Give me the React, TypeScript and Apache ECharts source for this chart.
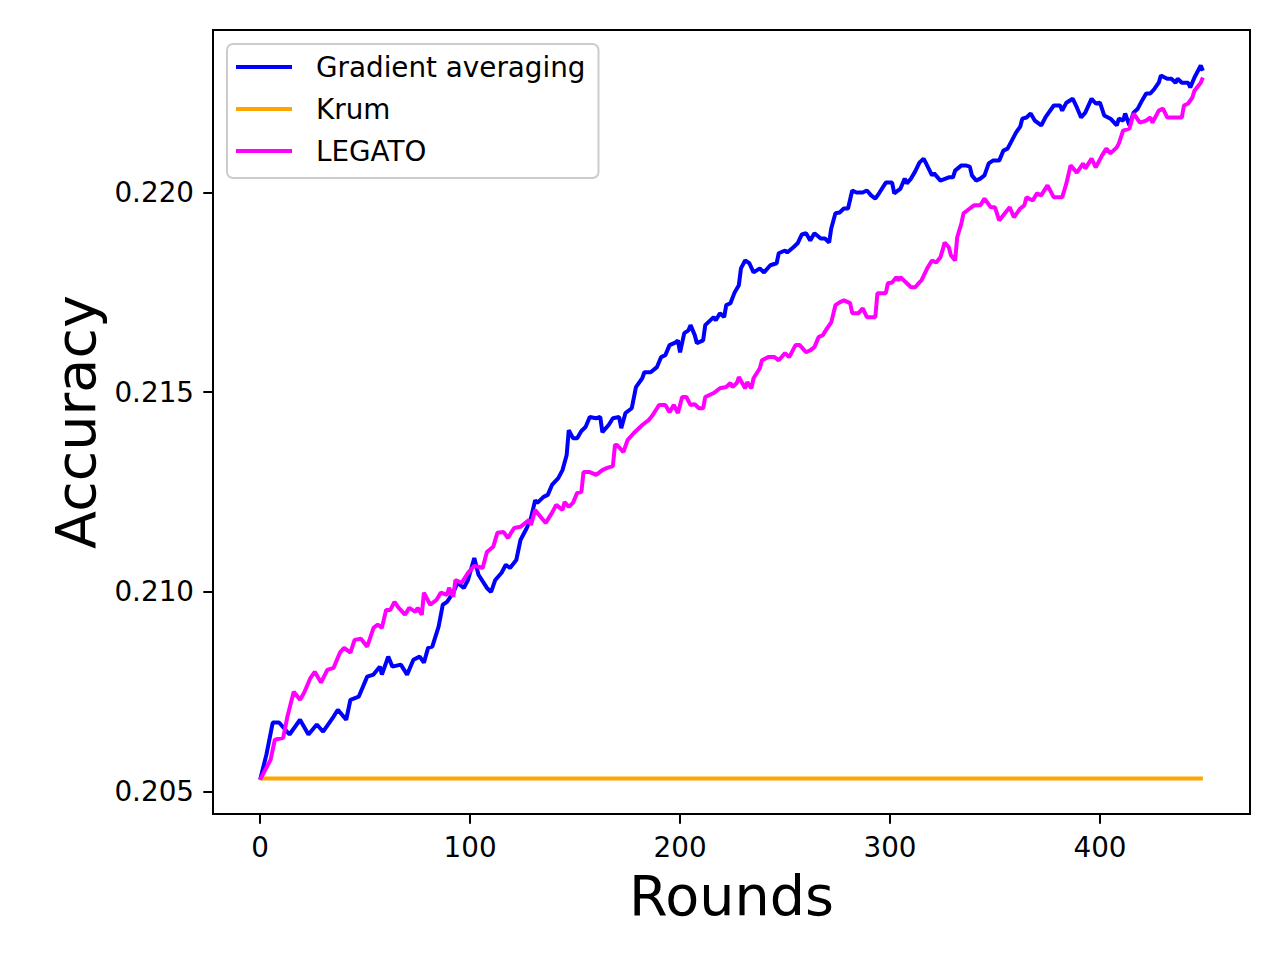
import React, { useEffect, useRef } from "react";
import * as echarts from "echarts";

const seriesNames = ["Gradient averaging", "Krum", "LEGATO"];
const seriesColors = ["#0000ff", "#ffa500", "#ff00ff"];

const xTicks = [0, 100, 200, 300, 400];
const yTicks = [0.205, 0.21, 0.215, 0.22];

const gaRounds = [
  0, 3, 6, 9, 14, 19, 23, 27, 30, 35, 37, 41, 43, 47, 51, 54, 57, 58, 61, 63, 67, 70, 73, 76, 78, 80, 82, 85, 87, 89,
  92, 94, 97, 99, 102, 104, 108, 110, 112, 115, 117, 119, 122, 124, 127, 129, 131, 132, 135, 137, 139, 142, 144, 146,
  147, 149, 151, 153, 155, 157, 160, 162, 163, 166, 168, 171, 172, 174, 177, 179, 182, 183, 186, 189, 191, 193, 195,
  198, 199, 200, 202, 204, 205, 207, 208, 211, 212, 216, 217, 219, 221, 222, 224, 226, 228, 229, 231, 233, 235, 238,
  240, 243, 246, 247, 250, 251, 254, 256, 258, 260, 262, 264, 267, 269, 271, 272, 274, 276, 278, 280, 282, 284, 287,
  289, 291, 293, 295, 298, 301, 302, 305, 307, 308, 310, 312, 314, 316, 317, 320, 321, 324, 328, 330, 331, 334, 336,
  338, 339, 341, 343, 345, 347, 349, 352, 354, 356, 358, 360, 362, 363, 365, 367, 369, 372, 374, 378, 381, 382, 384,
  387, 389, 391, 393, 396, 398, 400, 402, 405, 408, 409, 411, 412, 414, 416, 418, 420, 422, 424, 426, 428, 429, 432,
  434, 436, 437, 439, 442, 443, 445, 446, 448, 449,
];
const gaAcc = [
  0.2053, 0.20593, 0.20673, 0.20673, 0.20643, 0.2068, 0.20643, 0.20668, 0.2065, 0.20688, 0.20705, 0.2068, 0.2073,
  0.20738, 0.20788, 0.20793, 0.20813, 0.20793, 0.20838, 0.20813, 0.20818, 0.20793, 0.2083, 0.20838, 0.20823, 0.2086,
  0.20863, 0.20913, 0.20968, 0.20975, 0.20998, 0.21023, 0.2101, 0.2103, 0.21085, 0.21043, 0.2101, 0.21, 0.2103,
  0.21048, 0.21068, 0.2106, 0.2108, 0.2113, 0.2116, 0.21185, 0.2123, 0.21223, 0.21238, 0.21243, 0.21268, 0.21285,
  0.21305, 0.21343, 0.21405, 0.21385, 0.21385, 0.21403, 0.21413, 0.21438, 0.21435, 0.21438, 0.214, 0.21418, 0.21435,
  0.21438, 0.2141, 0.21448, 0.2146, 0.21513, 0.21535, 0.2155, 0.2155, 0.21563, 0.21588, 0.21593, 0.21618, 0.21625,
  0.2163, 0.216, 0.21648, 0.21655, 0.21668, 0.21643, 0.21623, 0.2163, 0.21668, 0.21688, 0.2168, 0.21698, 0.21688,
  0.21718, 0.21723, 0.2175, 0.21768, 0.2181, 0.2183, 0.21823, 0.218, 0.2181, 0.218, 0.21818, 0.21823, 0.21848,
  0.21855, 0.2185, 0.21863, 0.21873, 0.21895, 0.21898, 0.2188, 0.21898, 0.21885, 0.21885, 0.21875, 0.2191, 0.21948,
  0.2195, 0.2196, 0.2196, 0.22005, 0.22, 0.22, 0.22005, 0.21993, 0.21985, 0.22, 0.22025, 0.22025, 0.21998, 0.2201,
  0.22035, 0.22023, 0.22035, 0.22053, 0.22075, 0.22085, 0.22075, 0.22043, 0.22048, 0.2203, 0.22038, 0.22038, 0.22055,
  0.22068, 0.22068, 0.22065, 0.22043, 0.2203, 0.22035, 0.22043, 0.22073, 0.2208, 0.2208, 0.22105, 0.2211, 0.2213,
  0.2215, 0.22165, 0.22185, 0.22188, 0.22198, 0.2218, 0.22168, 0.22188, 0.22218, 0.22218, 0.22205, 0.22225, 0.22235,
  0.22213, 0.22188, 0.222, 0.22235, 0.22223, 0.22225, 0.22193, 0.22185, 0.22168, 0.22185, 0.2218, 0.22198, 0.22168,
  0.222, 0.2221, 0.2223, 0.22248, 0.22248, 0.2226, 0.22275, 0.22293, 0.22285, 0.22285, 0.22275, 0.22285, 0.22275,
  0.22275, 0.22263, 0.22288, 0.22298, 0.22318, 0.22305,
];

const krumRounds = [0, 449];
const krumAcc = [0.20533, 0.20533];

const legRounds = [
  0, 5, 7, 11, 13, 16, 19, 21, 24, 26, 29, 32, 35, 38, 40, 43, 45, 48, 51, 54, 56, 58, 60, 62, 64, 66, 69, 71, 74, 75,
  77, 78, 81, 84, 86, 89, 90, 92, 93, 96, 99, 102, 104, 106, 108, 111, 113, 116, 118, 121, 124, 128, 129, 131, 134,
  136, 139, 141, 144, 145, 147, 149, 151, 153, 154, 157, 160, 163, 165, 168, 169, 170, 173, 175, 178, 182, 185, 187,
  190, 193, 195, 197, 199, 201, 203, 205, 207, 209, 211, 212, 216, 219, 222, 224, 225, 227, 228, 231, 232, 234, 235,
  238, 239, 242, 245, 247, 250, 252, 255, 257, 260, 262, 264, 266, 268, 270, 272, 274, 276, 278, 281, 282, 285, 287,
  289, 291, 293, 294, 298, 299, 301, 303, 304, 305, 310, 312, 314, 315, 318, 320, 322, 324, 325, 326, 328, 329, 331,
  332, 334, 335, 338, 340, 343, 345, 348, 350, 352, 355, 357, 359, 362, 364, 365, 368, 370, 372, 375, 378, 382, 384,
  386, 389, 392, 393, 396, 398, 401, 403, 405, 408, 409, 411, 414, 416, 419, 422, 424, 425, 428, 430, 432, 436, 439,
  440, 442, 444, 445, 448, 449,
];
const legAcc = [
  0.2053, 0.2058, 0.2063, 0.20635, 0.20688, 0.2075, 0.2073, 0.20748, 0.20785, 0.208, 0.20773, 0.20805, 0.2081,
  0.20848, 0.2086, 0.20848, 0.2088, 0.20883, 0.20863, 0.2091, 0.20918, 0.2091, 0.20955, 0.20955, 0.20975, 0.2096,
  0.20943, 0.2096, 0.2095, 0.2096, 0.20943, 0.20998, 0.20968, 0.2098, 0.20998, 0.20993, 0.2101, 0.20988, 0.2103,
  0.21023, 0.21048, 0.21065, 0.21063, 0.2106, 0.211, 0.21113, 0.21148, 0.2115, 0.21135, 0.2116, 0.21163, 0.2118,
  0.21168, 0.21205, 0.21185, 0.21173, 0.21198, 0.21218, 0.21205, 0.21225, 0.21213, 0.21223, 0.21248, 0.2125, 0.213,
  0.213, 0.21293, 0.21305, 0.2131, 0.21315, 0.21368, 0.21368, 0.2135, 0.2138, 0.21398, 0.21418, 0.2143, 0.21443,
  0.21468, 0.21468, 0.2145, 0.21468, 0.21448, 0.21488, 0.21488, 0.21468, 0.2147, 0.2146, 0.2146, 0.21488, 0.21498,
  0.2151, 0.21513, 0.21523, 0.21513, 0.21523, 0.21538, 0.2151, 0.21525, 0.2151, 0.21535, 0.2156, 0.2158, 0.21588,
  0.21588, 0.2158, 0.21598, 0.21588, 0.21618, 0.21618, 0.216, 0.21605, 0.21613, 0.21638, 0.21643, 0.2166, 0.21675,
  0.21718, 0.21725, 0.2173, 0.21723, 0.21698, 0.21698, 0.2171, 0.21688, 0.21688, 0.21688, 0.21748, 0.21748, 0.21773,
  0.21775, 0.21788, 0.2178, 0.21788, 0.21763, 0.21763, 0.21775, 0.2178, 0.21813, 0.2183, 0.21825, 0.21838, 0.21855,
  0.21875, 0.21863, 0.21843, 0.2183, 0.21888, 0.21923, 0.21948, 0.2196, 0.21968, 0.21968, 0.21985, 0.21963, 0.21963,
  0.2193, 0.2195, 0.21963, 0.21938, 0.2196, 0.21968, 0.21988, 0.2198, 0.21998, 0.21993, 0.22018, 0.21988, 0.21988,
  0.22023, 0.22068, 0.2205, 0.22073, 0.2206, 0.22085, 0.22063, 0.22093, 0.2211, 0.22098, 0.22113, 0.22123, 0.22155,
  0.2216, 0.22198, 0.22175, 0.2218, 0.22188, 0.22175, 0.22205, 0.2221, 0.22188, 0.22188, 0.22188, 0.22218, 0.22223,
  0.22238, 0.22255, 0.22275, 0.22288,
];

const FONT = "DejaVu Sans";

function pairs(xs: number[], ys: number[]) {
  return xs.map((x, i) => [x, ys[i]]);
}

export default function App() {
  const ref = useRef<HTMLDivElement>(null);
  useEffect(() => {
    if (!ref.current) return;
    const chart = echarts.init(ref.current, null, { renderer: "svg" });
    const allData = [pairs(gaRounds, gaAcc), pairs(krumRounds, krumAcc), pairs(legRounds, legAcc)];
    chart.setOption({
      animation: false,
      backgroundColor: "#ffffff",
      textStyle: { fontFamily: FONT },
      grid: {
        left: 213,
        top: 30,
        right: 30,
        bottom: 146,
        show: true,
        borderColor: "#000000",
        borderWidth: 2,
        backgroundColor: "transparent",
      },
      legend: {
        show: true,
        orient: "vertical",
        left: 227,
        top: 44,
        data: seriesNames,
        icon: "rect",
        itemWidth: 56,
        itemHeight: 4,
        itemGap: 10,
        padding: [7, 13, 11, 9],
        backgroundColor: "rgba(255,255,255,0.8)",
        borderColor: "#cccccc",
        borderWidth: 2,
        borderRadius: 6,
        selectedMode: false,
        textStyle: {
          fontFamily: FONT,
          fontSize: 27.8,
          color: "#000000",
          lineHeight: 32,
          padding: [0, 0, 0, 19],
        },
      },
      xAxis: {
        type: "value",
        min: -22.45,
        max: 471.45,
        name: "Rounds",
        nameLocation: "middle",
        nameGap: 53,
        nameTextStyle: { fontFamily: FONT, fontSize: 55.6, color: "#000000" },
        axisLine: { show: true, onZero: false, lineStyle: { color: "#000000", width: 2 } },
        axisTick: {
          show: true,
          customValues: xTicks,
          length: 9.7,
          inside: false,
          lineStyle: { color: "#000000", width: 2 },
        },
        axisLabel: {
          show: true,
          customValues: xTicks,
          margin: 19,
          fontFamily: FONT,
          fontSize: 27.8,
          color: "#000000",
          formatter: (v: number) => String(Math.round(v)),
        },
        splitLine: { show: false },
      },
      yAxis: {
        type: "value",
        min: 0.20444,
        max: 0.22407,
        name: "Accuracy",
        nameLocation: "middle",
        nameGap: 106,
        nameTextStyle: { fontFamily: FONT, fontSize: 55.6, color: "#000000" },
        axisLine: { show: true, onZero: false, lineStyle: { color: "#000000", width: 2 } },
        axisTick: {
          show: true,
          customValues: yTicks,
          length: 9.7,
          inside: false,
          lineStyle: { color: "#000000", width: 2 },
        },
        axisLabel: {
          show: true,
          customValues: yTicks,
          margin: 19,
          fontFamily: FONT,
          fontSize: 27.8,
          color: "#000000",
          formatter: (v: number) => v.toFixed(3),
        },
        splitLine: { show: false },
      },
      series: seriesNames.map((name, i) => ({
        name,
        type: "line",
        data: allData[i],
        symbol: "none",
        showSymbol: false,
        smooth: false,
        color: seriesColors[i],
        lineStyle: { color: seriesColors[i], width: 4 },
        z: 2 + i,
      })),
    });
    return () => chart.dispose();
  }, []);
  return (
    <div
      ref={ref}
      style={{ position: "absolute", left: 0, top: 0, width: 1280, height: 960 }}
    />
  );
}
